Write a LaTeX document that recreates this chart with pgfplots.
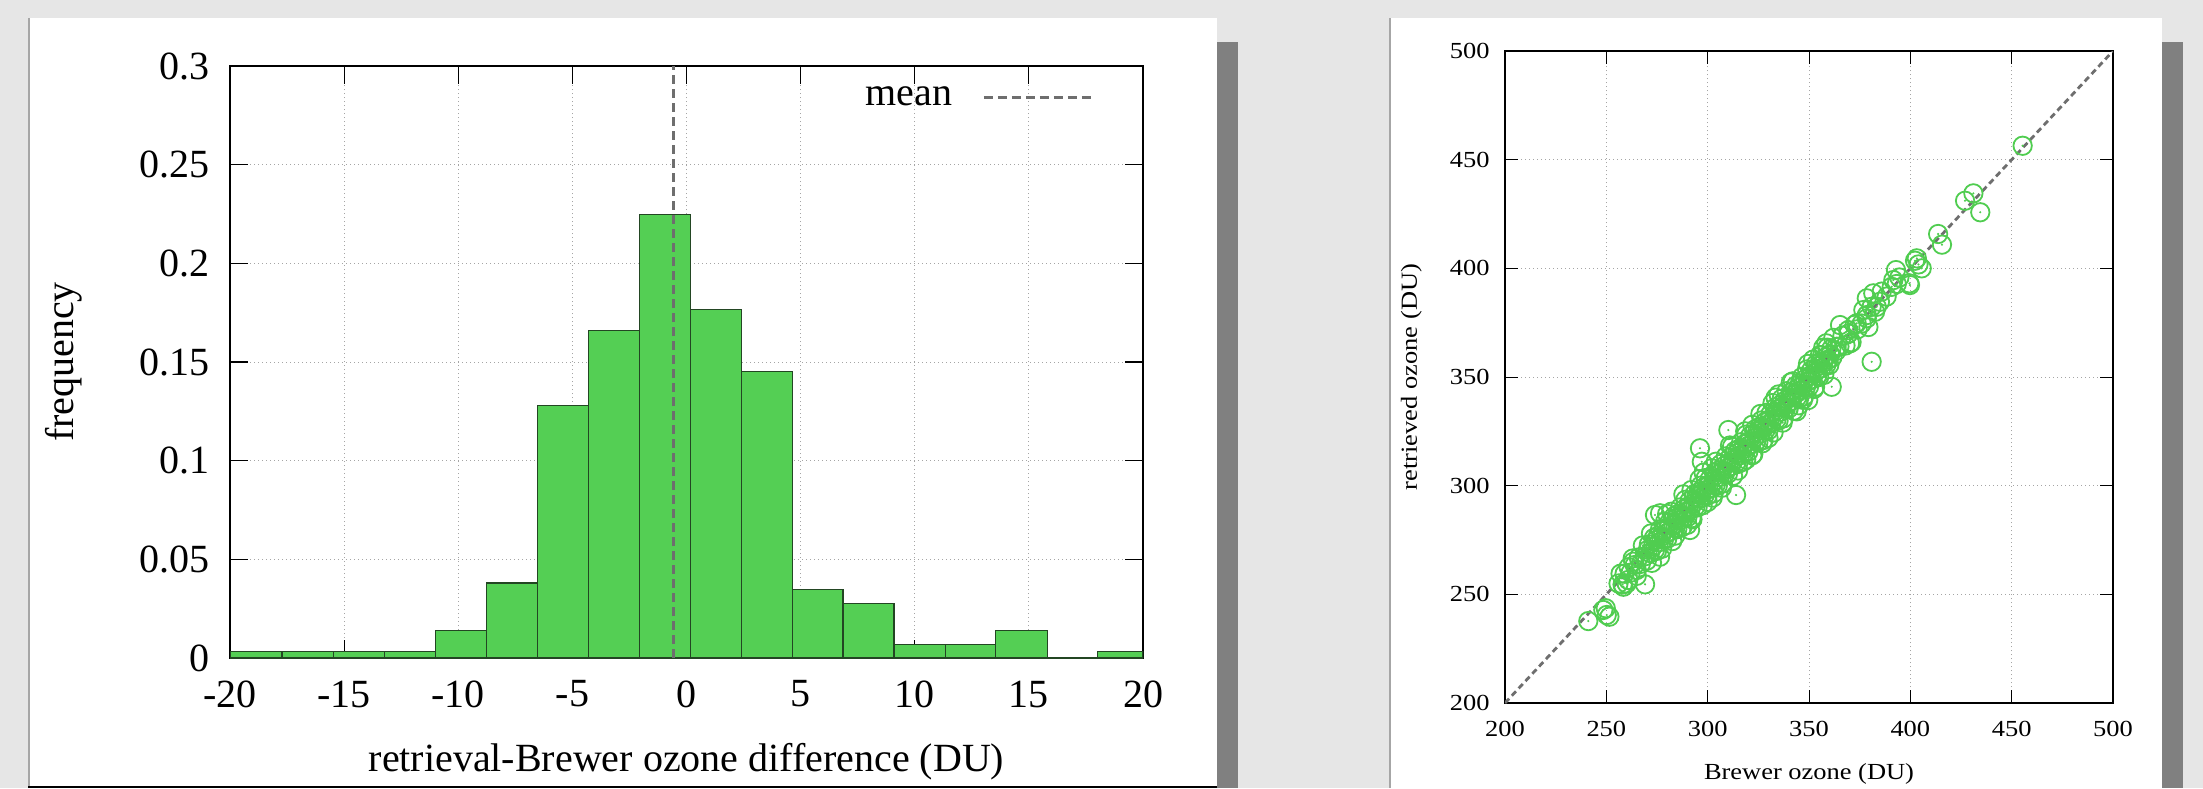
\documentclass[border=0pt]{standalone}
\usepackage{fontspec}
\setmainfont{Liberation Serif}
\newfontfamily\wideserif[FakeStretch=1.15]{Liberation Serif}
\usepackage{pgfplots}
\usepackage{pgfplotstable}
\pgfplotsset{compat=1.18}
\definecolor{bg}{RGB}{230,230,230}
\definecolor{shadow}{RGB}{128,128,128}
\definecolor{bargreen}{RGB}{84,207,84}
\definecolor{edgegreen}{RGB}{35,70,35}
\definecolor{meangray}{RGB}{110,110,110}
\definecolor{gridgray}{RGB}{165,165,165}
\definecolor{ptgreen}{RGB}{80,205,80}
\newcommand{\bigf}{\fontsize{20}{24}\selectfont}
\newcommand{\smallf}{\wideserif\fontsize{11.5}{14}\selectfont}

\pgfplotstableread{
x y
241.1 237.7
248.5 242.8
250.2 240.5
251.5 239.7
249.7 243.6
258.4 253.5
260.8 256.6
269.1 254.6
263.3 265.0
265.0 261.2
276.5 267.3
274.0 286.5
276.5 287.3
291.3 279.6
310.2 325.6
296.2 317.2
297.1 311.0
314.0 295.7
361.2 345.5
343.9 334.2
349.6 339.4
380.9 357.0
256 255
257 259.5
258 254.5
259 259.5
260 255
261 262.5
262 260
263 266.5
264 263.5
265 258.5
266 267
267 264
268 272.5
269 267.5
270 265.5
270.5 270.5
271 273
271.5 269
272 278
272.5 264.5
273 272
273.5 276
274 270.5
274.5 275
275 270
275.5 277
276 274
276.5 280
277 276.5
277.5 271
278 279
278.5 275.5
279 283.5
279.5 278
280 275.5
280.5 280.5
281 283
281.5 279
282 288
282.5 274.5
283 282
283.5 286
284 280.5
284.5 285
285 280
285.5 287
286 284
286.5 290
287 286.5
287.5 281
288 289
288.5 285.5
289 293.5
289.5 288
290 285.5
290.5 290.5
291 293
291.5 289
292 298
292.5 284.5
293 292
293.5 296
294 290.5
294.5 295
295 290
295.5 297
296 294
296.5 300
297 296.5
297.5 291
298 299
298.5 295.5
299 303.5
299.5 298
300 295.5
300.5 300.5
301 303
301.5 299
302 308
302.5 294.5
303 302
303.5 306
304 300.5
304.5 305
305 300
305.5 307
306 304
306.5 310
307 306.5
307.5 301
308 309
308.5 305.5
309 313.5
309.5 308
310 305.5
310.5 310.5
311 313
311.5 309
312 318
312.5 304.5
313 312
313.5 316
314 310.5
314.5 315
315 310
315.5 317
316 314
316.5 320
317 316.5
317.5 311
318 319
318.5 315.5
319 323.5
319.5 318
320 315.5
320.5 320.5
321 323
321.5 319
322 328
322.5 314.5
323 322
323.5 326
324 320.5
324.5 325
325 320
325.5 327
326 324
326.5 330
327 326.5
327.5 321
328 329
328.5 325.5
329 333.5
329.5 328
330 325.5
330.5 330.5
331 333
331.5 329
332 338
332.5 324.5
333 332
333.5 336
334 330.5
334.5 335
335 330
335.5 337
336 334
336.5 340
337 336.5
337.5 331
338 339
338.5 335.5
339 343.5
339.5 338
340 335.5
340.5 340.5
341 343
341.5 339
342 348
342.5 334.5
343 342
343.5 346
344 340.5
344.5 345
345 340
345.5 347
346 344
346.5 350
347 346.5
347.5 341
348 349
348.5 345.5
349 353.5
349.5 348
350 345.5
350.5 350.5
351 353
351.5 349
352 358
352.5 344.5
353 352
353.5 356
354 350.5
354.5 355
355 350
355.5 357
356 354
356.5 360
357 356.5
357.5 351
358 359
358.5 355.5
359 363.5
359.5 358
360 355.5
360.5 360.5
361 363
361.5 359
362 368
363.5 362
365 364
366.5 369
368 364.5
369.5 370
371 366
372.5 374
374 372
365.3 373.9
369.4 371.6
373.5 374.7
378.5 378.5
383.4 382.3
388.3 387.0
358.5 365.5
363.6 363.9
370.2 365.5
355.4 360.1
403.2 404.6
404.0 401.8
405.6 400.0
402.3 403.5
392.9 399.2
399.5 393.1
391.6 394.6
394.6 395.8
390.8 391.5
385.9 389.3
381.7 388.5
378.5 386.2
385.0 384.6
380.9 382.3
376.8 380.8
382.6 380.0
378.5 377.0
376.0 374.6
379.3 373.0
393.3 392.8
399.8 392.3
413.7 415.8
415.6 410.9
431.1 434.5
427.0 431.1
434.5 425.8
455.4 456.4
284 277
288 296
292 285
296 303
300 292.5
304 311
307 299
311 318.5
315 307
318.5 325
322 314
326 333
330 322
333.5 340.5
337 329
341 347.5
345 337
349.5 356
353 345.5
357 363.5
280 287
290 282
303 296.5
319 312
335 342
347 339.5
298 306
327 319.5
}\scatterdata

\begin{document}
\begin{tikzpicture}
\useasboundingbox (0,0) rectangle (1101.5pt,394pt);
% backgrounds and panels
\fill[bg] (0,0) rectangle (1101.5pt,394pt);
\fill[shadow] (608.5pt,0) rectangle (619pt,373pt);
\fill[white] (14pt,0) rectangle (608.5pt,385pt);
\draw[gray!70, line width=1pt] (14.5pt,0) -- (14.5pt,385pt);
\draw[black, line width=1pt] (14pt,0.5pt) -- (608.5pt,0.5pt);
\fill[shadow] (1081pt,0) rectangle (1091.5pt,373pt);
\fill[white] (694.5pt,0) rectangle (1081pt,385pt);
\draw[gray!70, line width=1pt] (695pt,0) -- (695pt,385pt);

% left: histogram
\begin{axis}[
  at={(115pt,65pt)}, anchor=south west,
  scale only axis, width=456.5pt, height=296pt,
  xmin=-20, xmax=20, ymin=0, ymax=0.3,
  xtick={-20,-15,-10,-5,0,5,10,15,20},
  xticklabels={-20,-15,-10,-5,0,5,10,15,20},
  ytick={0,0.05,0.1,0.15,0.2,0.25,0.3},
  yticklabels={0,0.05,0.1,0.15,0.2,0.25,0.3},
  scaled ticks=false,
  tick align=inside, major tick length=9pt,
  tick style={black, line width=0.6pt},
  axis line style={black, line width=0.7pt},
  grid=major,
  major grid style={gridgray, line width=0.5pt, dash pattern=on 0.6pt off 1.4pt},
  xticklabel style={font=\bigf, yshift=-7.8pt},
  yticklabel style={font=\bigf, xshift=-6.8pt},
  xlabel={retrieval-Brewer ozone difference (DU)},
  ylabel={frequency},
  xlabel style={font=\bigf, at={(axis description cs:0.5,-0.191)}, anchor=base},
  ylabel style={font=\bigf, at={(axis description cs:-0.171,0.5)}, anchor=base, rotate=0},
  legend style={draw=none, fill=none, at={(axis description cs:0.957,0.946)}, anchor=east, font=\bigf},
  legend plot pos=right,
  legend image code/.code={\draw[#1] (0pt,0pt) -- (56pt,0pt);},
]
\addplot[ybar interval, fill=bargreen, draw=edgegreen, line width=0.6pt, forget plot] coordinates {
(-19.98,0.00346) (-17.72,0.00346) (-15.47,0.00346) (-13.24,0.00346)
(-11.01,0.01384) (-8.76,0.03806) (-6.53,0.12803) (-4.30,0.16609)
(-2.07,0.22491) (0.18,0.17647) (2.40,0.14533) (4.63,0.03460)
(6.86,0.02768) (9.09,0.00692) (11.34,0.00692) (13.55,0.01384)
(15.80,0) (17.99,0.00346) (20,0)};
\addplot[meangray, line width=1.5pt, dash pattern=on 4.5pt off 2.5pt] coordinates {(-0.58,0) (-0.58,0.3)};
\addlegendentry{mean\hspace*{13pt}}
\end{axis}

% right: scatter
\begin{axis}[
  at={(752.5pt,42.5pt)}, anchor=south west,
  scale only axis, width=304pt, height=326pt,
  xmin=200, xmax=500, ymin=200, ymax=500,
  xtick={200,250,300,350,400,450,500},
  xticklabels={200,250,300,350,400,450,500},
  ytick={200,250,300,350,400,450,500},
  yticklabels={200,250,300,350,400,450,500},
  tick align=inside, major tick length=6.5pt,
  tick style={black, line width=0.5pt},
  axis line style={black, line width=0.6pt},
  grid=major,
  major grid style={gridgray, line width=0.5pt, dash pattern=on 0.6pt off 1.4pt},
  xticklabel style={font=\smallf, yshift=-5.7pt},
  yticklabel style={font=\smallf, xshift=-4.2pt},
  xlabel={Brewer ozone (DU)},
  ylabel={retrieved ozone (DU)},
  xlabel style={font=\smallf, at={(axis description cs:0.5,-0.117)}, anchor=base},
  ylabel style={font=\smallf, at={(axis description cs:-0.145,0.5)}, anchor=base, rotate=0},
]
\addplot[only marks, mark=o, mark size=4.6pt, ptgreen, mark options={line width=0.9pt}] table {\scatterdata};
\addplot[only marks, mark=*, mark size=0.3pt, ptgreen] table {\scatterdata};
\addplot[meangray, line width=1.4pt, dash pattern=on 3pt off 2pt] coordinates {(200,200) (500,500)};
\end{axis}
\end{tikzpicture}
\end{document}
